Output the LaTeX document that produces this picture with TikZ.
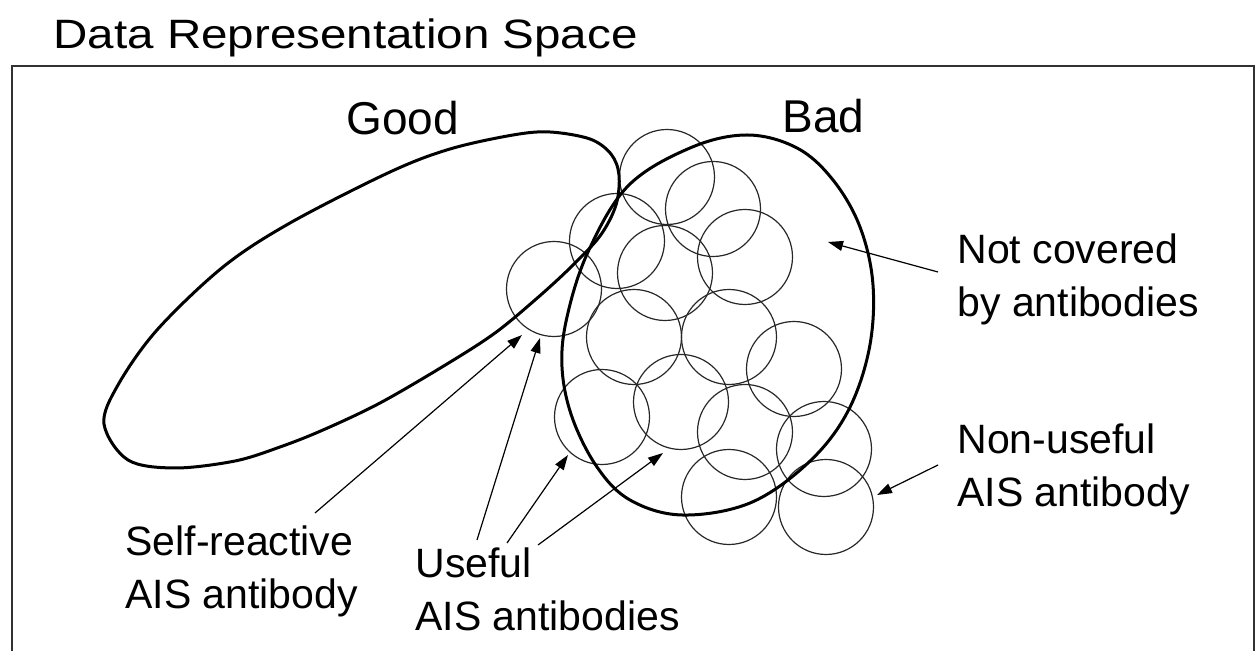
\documentclass[tikz,border=0pt]{standalone}
\usepackage{fontspec}
\setmainfont{Liberation Sans}
\usepackage{graphicx}
\usetikzlibrary{arrows.meta,positioning}
\definecolor{frameGray}{RGB}{50,50,50}
\definecolor{cellGray}{RGB}{40,40,40}

\begin{document}
\begin{tikzpicture}[x=0.5pt,y=-0.5pt,
        region/.style={line width=1.5pt,black},
        abcell/.style={line width=0.6pt,cellGray},
        pointer/.style={line width=0.6pt,black,-{Triangle[length=7.5pt,width=5pt]}},
        lbl/.style={anchor=north west,inner sep=0pt,align=left,
                    font=\fontsize{20.5}{26.5}\selectfont},
        regname/.style={anchor=north west,inner sep=0pt,font=\fontsize{23}{28}\selectfont}
    ]
        \useasboundingbox (0,0) rectangle (1260,651);

        % Frame and title
        \draw[frameGray,line width=1pt] (12,670) -- (12,66) -- (1254,66) -- (1254,670);
        \node[lbl] (title) at (53,18) {\scalebox{1.16}[1]{Data Representation Space}};

        % Antibodies
        \foreach \cx/\cy in {667/177,713/209,617/241,554/289,665/273,745/257,634/337,729/337,
                             794/369,602/417,681/402,745/432,824/449,729/497,826/507}
            \draw[abcell] (\cx,\cy) circle (47.5);

        % Good region
        \draw[region] plot[smooth cycle,tension=0.55] coordinates {
            (104,424) (118,385) (157,330) (223,267) (290,223) (390,172) (450,149)
            (513,135) (550,132) (590,139) (611,154) (619,175) (616,205) (600,236)
            (570,268) (535,300) (495,333) (447,364) (380,403) (323,430) (280,447)
            (235,461) (175,468) (128,460)};

        % Bad region
        \draw[region] plot[smooth cycle,tension=0.6] coordinates {
            (747,135) (797,148) (833,180) (860,227) (873,285) (869,350) (847,413)
            (808,463) (750,503) (682,515) (630,500) (597,467) (572,417) (562,367)
            (567,317) (588,252) (628,186) (690,148)};

        \node[regname] (good) at (346,101) {Good};
        \node[regname] (bad) at (782,99) {Bad};

        % Labels
        \node[lbl] (notcov) at (957,233) {Not covered\\by antibodies};
        \node[lbl] (nonuse) at (957,423) {Non-useful\\AIS antibody};
        \node[lbl] (selfre) at (125,525) {Self-reactive\\AIS antibody};
        \node[lbl] (useful) at (415,547) {Useful\\AIS antibodies};

        % Arrow ends
        \coordinate (nctail) at (938,272);   \coordinate (nctip) at (828,242);
        \coordinate (nutail) at (938,465);   \coordinate (nutip) at (877,495);
        \coordinate (srtail) at (315,513);   \coordinate (srtip) at (522,335);
        \coordinate (ustailA) at (477,540);  \coordinate (ustipA) at (540,338);
        \coordinate (ustailB) at (507,543);  \coordinate (ustipB) at (568,455);
        \coordinate (ustailC) at (538,545);  \coordinate (ustipC) at (663,453);

        \draw[pointer] (nctail) -- (nctip);
        \draw[pointer] (nutail) -- (nutip);
        \draw[pointer] (srtail) -- (srtip);
        \draw[pointer] (ustailA) -- (ustipA);
        \draw[pointer] (ustailB) -- (ustipB);
        \draw[pointer] (ustailC) -- (ustipC);

    \end{tikzpicture}
\end{document}
